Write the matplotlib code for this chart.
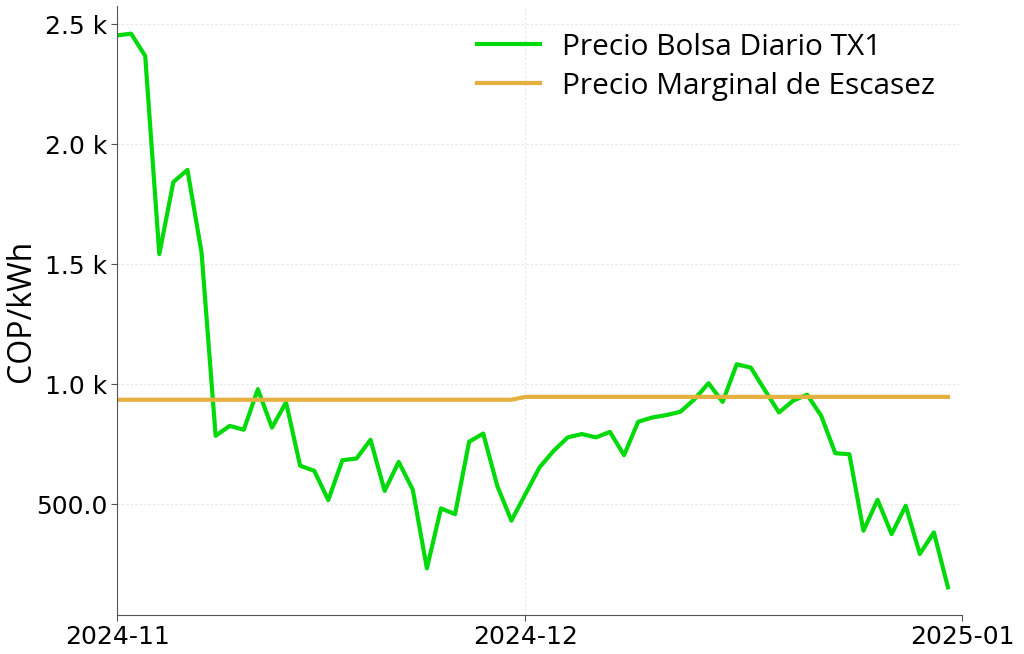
import matplotlib
matplotlib.use("Agg")
import matplotlib.pyplot as plt
import matplotlib.dates as mdates
from matplotlib.ticker import FuncFormatter
import pandas as pd

# daily series, 2024-11-02 .. 2024-12-31
fechas = pd.date_range("2024-11-02", "2024-12-31", freq="D")

precio_bolsa = [
    2454, 2461, 2368, 1542, 1843, 1893, 1549, 785, 826, 810,
    979, 819, 924, 660, 639, 517, 683, 690, 768, 555,
    676, 560, 232, 482, 458, 760, 794, 576, 431, 542,
    653, 722, 778, 792, 778, 801, 704, 843, 861, 871,
    885, 937, 1004, 926, 1083, 1069, 975, 882, 931, 956,
    868, 712, 708, 389, 518, 375, 493, 292, 382, 153,
]

precio_escasez = [935] * 29 + [947] * 31

etiquetas = ["Precio Bolsa Diario TX1", "Precio Marginal de Escasez"]
colores = ["#00d90a", "#e5b03f"]


def fmt_k(v, pos):
    if abs(v) >= 1000:
        return f"{v/1000:.1f} k"
    return f"{v:.1f}"


fig = plt.figure(figsize=(10.24, 6.54), dpi=100, facecolor="w")
ax = fig.add_axes([0.1143, 0.0596, 0.8252, 0.9312])

ax.plot(fechas, precio_bolsa, color=colores[0], lw=3, label=etiquetas[0])
ax.plot(fechas, precio_escasez, color=colores[1], lw=3, label=etiquetas[1])

# x axis: first day, then month starts
ax.set_xlim(fechas[0], pd.Timestamp("2025-01-01"))
ax.set_xticks([fechas[0], pd.Timestamp("2024-12-01"), pd.Timestamp("2025-01-01")])
ax.xaxis.set_major_formatter(mdates.DateFormatter("%Y-%m"))

ax.set_yticks([500, 1000, 1500, 2000, 2500])
ax.yaxis.set_major_formatter(FuncFormatter(fmt_k))
ax.margins(y=0.05)

ax.tick_params(axis="both", labelsize=18, length=4, color="#555555")
ax.tick_params(axis="y", pad=3)
for lab in ax.get_xticklabels() + ax.get_yticklabels():
    lab.set_family("DejaVu Sans")

ax.set_ylabel("COP/kWh", fontsize=23, family=["Open Sans", "DejaVu Sans"])
ax.yaxis.set_label_coords(-0.094, 0.5)

ax.grid(True, color="#e8e8e8", lw=0.8, ls=(0, (2, 2)))
ax.set_axisbelow(True)
for s in ("top", "right"):
    ax.spines[s].set_visible(False)
for s in ("left", "bottom"):
    ax.spines[s].set_color("#555555")

leg = ax.legend(loc="upper right", frameon=False,
                prop={"family": ["Open Sans", "DejaVu Sans"], "size": 21.5},
                handlelength=2.1, handletextpad=0.75, labelspacing=0.33,
                bbox_to_anchor=(1.0, 1.0))

fig.savefig("out.png", dpi=100)
